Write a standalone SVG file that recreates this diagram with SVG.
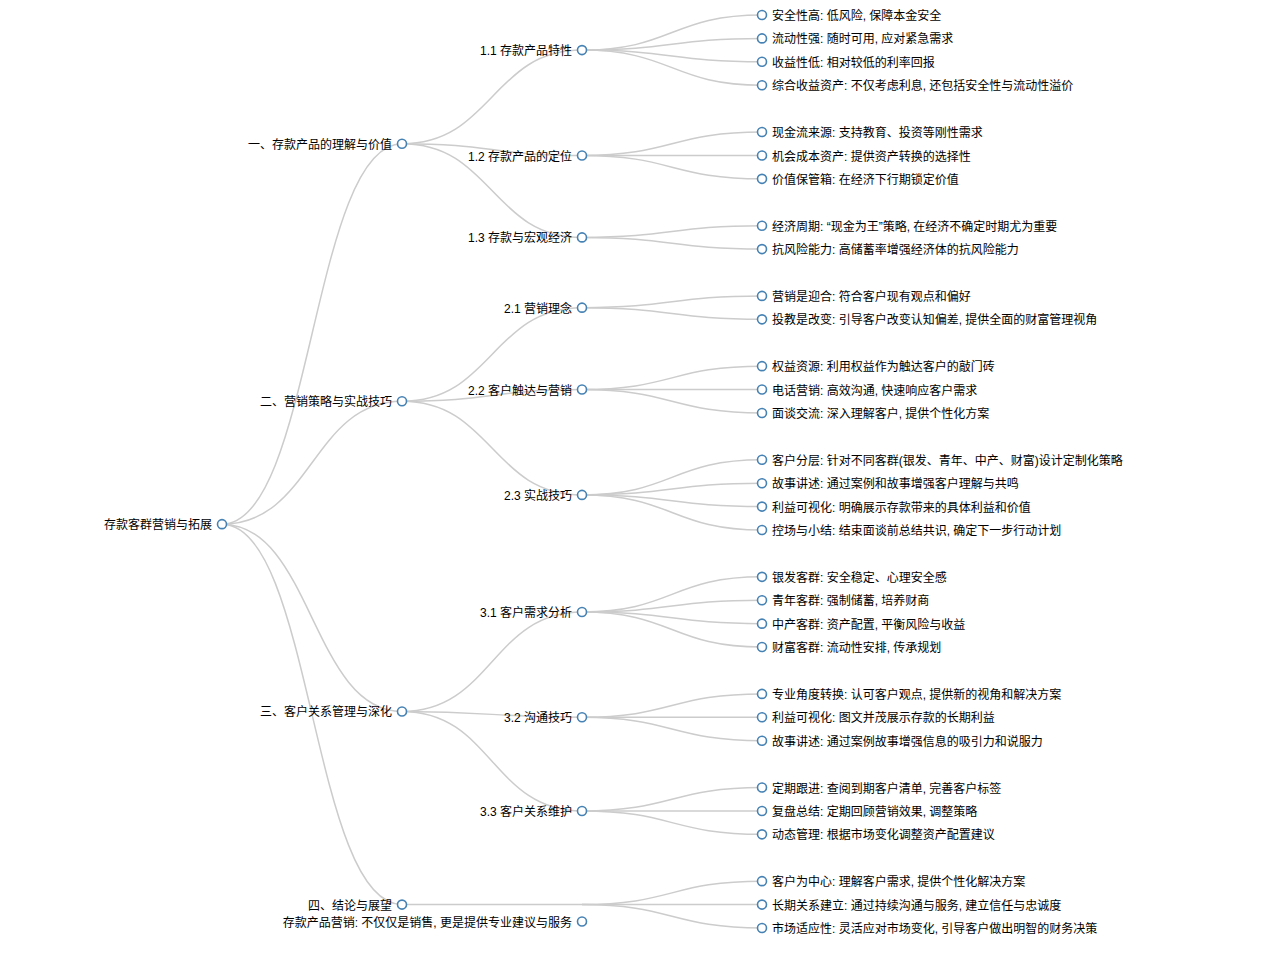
<svg xmlns="http://www.w3.org/2000/svg" width="1276" height="953" viewBox="0 0 1276 953">
<style>
.link{fill:none;stroke:#ccc;stroke-width:1.5px}
.node circle{fill:#fff;stroke:steelblue;stroke-width:1.6px}
.node text{font-family:"Liberation Sans","Noto Sans CJK SC",sans-serif;font-size:12px;fill:#000}
.l text{text-anchor:start}
.i text{text-anchor:end}
</style>
<rect width="1276" height="953" fill="#fff"/>
<g id="links">
<path class="link" d="M222,524.17C312,524.17 312,143.76 402,143.76"/>
<path class="link" d="M222,524.17C312,524.17 312,401.27 402,401.27"/>
<path class="link" d="M222,524.17C312,524.17 312,711.45 402,711.45"/>
<path class="link" d="M222,524.17C312,524.17 312,904.58 402,904.58"/>
<path class="link" d="M402,143.76C492,143.76 492,50.12 582,50.12"/>
<path class="link" d="M402,143.76C492,143.76 492,155.46 582,155.46"/>
<path class="link" d="M402,143.76C492,143.76 492,237.4 582,237.4"/>
<path class="link" d="M402,401.27C492,401.27 492,307.63 582,307.63"/>
<path class="link" d="M402,401.27C492,401.27 492,389.56 582,389.56"/>
<path class="link" d="M402,401.27C492,401.27 492,494.91 582,494.91"/>
<path class="link" d="M402,711.45C492,711.45 492,611.96 582,611.96"/>
<path class="link" d="M402,711.45C492,711.45 492,717.3 582,717.3"/>
<path class="link" d="M402,711.45C492,711.45 492,810.94 582,810.94"/>
<path class="link" d="M402,904.58C492,904.58 492,904.58 582,904.58"/>
<path class="link" d="M582,50.12C672,50.12 672,15 762,15"/>
<path class="link" d="M582,50.12C672,50.12 672,38.41 762,38.41"/>
<path class="link" d="M582,50.12C672,50.12 672,61.82 762,61.82"/>
<path class="link" d="M582,50.12C672,50.12 672,85.23 762,85.23"/>
<path class="link" d="M582,155.46C672,155.46 672,132.05 762,132.05"/>
<path class="link" d="M582,155.46C672,155.46 672,155.46 762,155.46"/>
<path class="link" d="M582,155.46C672,155.46 672,178.87 762,178.87"/>
<path class="link" d="M582,237.4C672,237.4 672,225.69 762,225.69"/>
<path class="link" d="M582,237.4C672,237.4 672,249.1 762,249.1"/>
<path class="link" d="M582,307.63C672,307.63 672,295.92 762,295.92"/>
<path class="link" d="M582,307.63C672,307.63 672,319.33 762,319.33"/>
<path class="link" d="M582,389.56C672,389.56 672,366.15 762,366.15"/>
<path class="link" d="M582,389.56C672,389.56 672,389.56 762,389.56"/>
<path class="link" d="M582,389.56C672,389.56 672,412.97 762,412.97"/>
<path class="link" d="M582,494.91C672,494.91 672,459.79 762,459.79"/>
<path class="link" d="M582,494.91C672,494.91 672,483.2 762,483.2"/>
<path class="link" d="M582,494.91C672,494.91 672,506.61 762,506.61"/>
<path class="link" d="M582,494.91C672,494.91 672,530.02 762,530.02"/>
<path class="link" d="M582,611.96C672,611.96 672,576.84 762,576.84"/>
<path class="link" d="M582,611.96C672,611.96 672,600.25 762,600.25"/>
<path class="link" d="M582,611.96C672,611.96 672,623.66 762,623.66"/>
<path class="link" d="M582,611.96C672,611.96 672,647.07 762,647.07"/>
<path class="link" d="M582,717.3C672,717.3 672,693.89 762,693.89"/>
<path class="link" d="M582,717.3C672,717.3 672,717.3 762,717.3"/>
<path class="link" d="M582,717.3C672,717.3 672,740.71 762,740.71"/>
<path class="link" d="M582,810.94C672,810.94 672,787.53 762,787.53"/>
<path class="link" d="M582,810.94C672,810.94 672,810.94 762,810.94"/>
<path class="link" d="M582,810.94C672,810.94 672,834.35 762,834.35"/>
<path class="link" d="M582,904.58C672,904.58 672,881.17 762,881.17"/>
<path class="link" d="M582,904.58C672,904.58 672,904.58 762,904.58"/>
<path class="link" d="M582,904.58C672,904.58 672,927.99 762,927.99"/>
</g>
<g id="root" class="node i" transform="translate(222,524.17)"><circle r="4.5"/><text x="-10" dy="0.42em">存款客群营销与拓展</text></g>
<g id="n1" class="node i" transform="translate(402,143.76)"><circle r="4.5"/><text x="-10" dy="0.42em">一、存款产品的理解与价值</text></g>
<g id="n2" class="node i" transform="translate(402,401.27)"><circle r="4.5"/><text x="-10" dy="0.42em">二、营销策略与实战技巧</text></g>
<g id="n3" class="node i" transform="translate(402,711.45)"><circle r="4.5"/><text x="-10" dy="0.42em">三、客户关系管理与深化</text></g>
<g id="n4" class="node i" transform="translate(402,904.58)"><circle r="4.5"/><text x="-10" dy="0.42em">四、结论与展望</text></g>
<g id="n1-1" class="node i" transform="translate(582,50.12)"><circle r="4.5"/><text x="-10" dy="0.42em">1.1 存款产品特性</text></g>
<g id="n1-2" class="node i" transform="translate(582,155.46)"><circle r="4.5"/><text x="-10" dy="0.42em">1.2 存款产品的定位</text></g>
<g id="n1-3" class="node i" transform="translate(582,237.4)"><circle r="4.5"/><text x="-10" dy="0.42em">1.3 存款与宏观经济</text></g>
<g id="n2-1" class="node i" transform="translate(582,307.63)"><circle r="4.5"/><text x="-10" dy="0.42em">2.1 营销理念</text></g>
<g id="n2-2" class="node i" transform="translate(582,389.56)"><circle r="4.5"/><text x="-10" dy="0.42em">2.2 客户触达与营销</text></g>
<g id="n2-3" class="node i" transform="translate(582,494.91)"><circle r="4.5"/><text x="-10" dy="0.42em">2.3 实战技巧</text></g>
<g id="n3-1" class="node i" transform="translate(582,611.96)"><circle r="4.5"/><text x="-10" dy="0.42em">3.1 客户需求分析</text></g>
<g id="n3-2" class="node i" transform="translate(582,717.3)"><circle r="4.5"/><text x="-10" dy="0.42em">3.2 沟通技巧</text></g>
<g id="n3-3" class="node i" transform="translate(582,810.94)"><circle r="4.5"/><text x="-10" dy="0.42em">3.3 客户关系维护</text></g>
<g id="n4-1" class="node i" transform="translate(582,921.5)"><circle r="4.5"/><text x="-10" dy="0.42em">存款产品营销: 不仅仅是销售, 更是提供专业建议与服务</text></g>
<g id="a1" class="node l" transform="translate(762,15)"><circle r="4.5"/><text x="10" dy="0.42em">安全性高: 低风险, 保障本金安全</text></g>
<g id="a2" class="node l" transform="translate(762,38.41)"><circle r="4.5"/><text x="10" dy="0.42em">流动性强: 随时可用, 应对紧急需求</text></g>
<g id="a3" class="node l" transform="translate(762,61.82)"><circle r="4.5"/><text x="10" dy="0.42em">收益性低: 相对较低的利率回报</text></g>
<g id="a4" class="node l" transform="translate(762,85.23)"><circle r="4.5"/><text x="10" dy="0.42em">综合收益资产: 不仅考虑利息, 还包括安全性与流动性溢价</text></g>
<g id="b1" class="node l" transform="translate(762,132.05)"><circle r="4.5"/><text x="10" dy="0.42em">现金流来源: 支持教育、投资等刚性需求</text></g>
<g id="b2" class="node l" transform="translate(762,155.46)"><circle r="4.5"/><text x="10" dy="0.42em">机会成本资产: 提供资产转换的选择性</text></g>
<g id="b3" class="node l" transform="translate(762,178.87)"><circle r="4.5"/><text x="10" dy="0.42em">价值保管箱: 在经济下行期锁定价值</text></g>
<g id="c1" class="node l" transform="translate(762,225.69)"><circle r="4.5"/><text x="10" dy="0.42em">经济周期: “现金为王”策略, 在经济不确定时期尤为重要</text></g>
<g id="c2" class="node l" transform="translate(762,249.1)"><circle r="4.5"/><text x="10" dy="0.42em">抗风险能力: 高储蓄率增强经济体的抗风险能力</text></g>
<g id="d1" class="node l" transform="translate(762,295.92)"><circle r="4.5"/><text x="10" dy="0.42em">营销是迎合: 符合客户现有观点和偏好</text></g>
<g id="d2" class="node l" transform="translate(762,319.33)"><circle r="4.5"/><text x="10" dy="0.42em">投教是改变: 引导客户改变认知偏差, 提供全面的财富管理视角</text></g>
<g id="e1" class="node l" transform="translate(762,366.15)"><circle r="4.5"/><text x="10" dy="0.42em">权益资源: 利用权益作为触达客户的敲门砖</text></g>
<g id="e2" class="node l" transform="translate(762,389.56)"><circle r="4.5"/><text x="10" dy="0.42em">电话营销: 高效沟通, 快速响应客户需求</text></g>
<g id="e3" class="node l" transform="translate(762,412.97)"><circle r="4.5"/><text x="10" dy="0.42em">面谈交流: 深入理解客户, 提供个性化方案</text></g>
<g id="f1" class="node l" transform="translate(762,459.79)"><circle r="4.5"/><text x="10" dy="0.42em">客户分层: 针对不同客群(银发、青年、中产、财富)设计定制化策略</text></g>
<g id="f2" class="node l" transform="translate(762,483.2)"><circle r="4.5"/><text x="10" dy="0.42em">故事讲述: 通过案例和故事增强客户理解与共鸣</text></g>
<g id="f3" class="node l" transform="translate(762,506.61)"><circle r="4.5"/><text x="10" dy="0.42em">利益可视化: 明确展示存款带来的具体利益和价值</text></g>
<g id="f4" class="node l" transform="translate(762,530.02)"><circle r="4.5"/><text x="10" dy="0.42em">控场与小结: 结束面谈前总结共识, 确定下一步行动计划</text></g>
<g id="g1" class="node l" transform="translate(762,576.84)"><circle r="4.5"/><text x="10" dy="0.42em">银发客群: 安全稳定、心理安全感</text></g>
<g id="g2" class="node l" transform="translate(762,600.25)"><circle r="4.5"/><text x="10" dy="0.42em">青年客群: 强制储蓄, 培养财商</text></g>
<g id="g3" class="node l" transform="translate(762,623.66)"><circle r="4.5"/><text x="10" dy="0.42em">中产客群: 资产配置, 平衡风险与收益</text></g>
<g id="g4" class="node l" transform="translate(762,647.07)"><circle r="4.5"/><text x="10" dy="0.42em">财富客群: 流动性安排, 传承规划</text></g>
<g id="h1" class="node l" transform="translate(762,693.89)"><circle r="4.5"/><text x="10" dy="0.42em">专业角度转换: 认可客户观点, 提供新的视角和解决方案</text></g>
<g id="h2" class="node l" transform="translate(762,717.3)"><circle r="4.5"/><text x="10" dy="0.42em">利益可视化: 图文并茂展示存款的长期利益</text></g>
<g id="h3" class="node l" transform="translate(762,740.71)"><circle r="4.5"/><text x="10" dy="0.42em">故事讲述: 通过案例故事增强信息的吸引力和说服力</text></g>
<g id="i1" class="node l" transform="translate(762,787.53)"><circle r="4.5"/><text x="10" dy="0.42em">定期跟进: 查阅到期客户清单, 完善客户标签</text></g>
<g id="i2" class="node l" transform="translate(762,810.94)"><circle r="4.5"/><text x="10" dy="0.42em">复盘总结: 定期回顾营销效果, 调整策略</text></g>
<g id="i3" class="node l" transform="translate(762,834.35)"><circle r="4.5"/><text x="10" dy="0.42em">动态管理: 根据市场变化调整资产配置建议</text></g>
<g id="j1" class="node l" transform="translate(762,881.17)"><circle r="4.5"/><text x="10" dy="0.42em">客户为中心: 理解客户需求, 提供个性化解决方案</text></g>
<g id="j2" class="node l" transform="translate(762,904.58)"><circle r="4.5"/><text x="10" dy="0.42em">长期关系建立: 通过持续沟通与服务, 建立信任与忠诚度</text></g>
<g id="j3" class="node l" transform="translate(762,927.99)"><circle r="4.5"/><text x="10" dy="0.42em">市场适应性: 灵活应对市场变化, 引导客户做出明智的财务决策</text></g>
</svg>
